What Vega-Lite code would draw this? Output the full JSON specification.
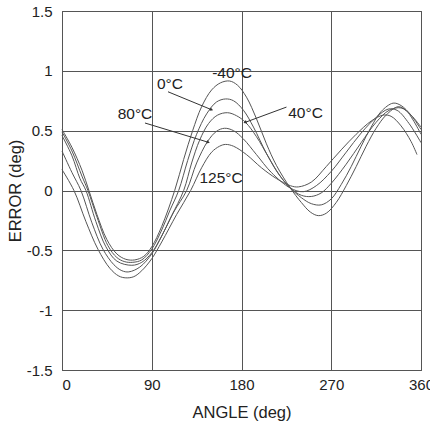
{
  "$schema": "https://vega.github.io/schema/vega-lite/v6.json",
  "width": 359,
  "height": 359,
  "autosize": "none",
  "padding": {"left": 62, "top": 11, "right": 9, "bottom": 59},
  "background": "white",
  "config": {
    "font": "Liberation Sans",
    "view": {"stroke": "#444", "strokeWidth": 1},
    "axis": {
      "grid": true, "gridColor": "#555", "gridOpacity": 1, "gridWidth": 1,
      "domain": false, "ticks": false,
      "labelFont": "Liberation Sans", "labelFontSize": 15, "labelColor": "#222",
      "titleFont": "Liberation Sans", "titleFontSize": 16.5, "titleFontWeight": "normal", "titleColor": "#222"
    }
  },
  "datasets": {
    "curves": [
      {"s":"A","a":0,"e":0.51},{"s":"A","a":10,"e":0.36},{"s":"A","a":20,"e":0.17},{"s":"A","a":27,"e":0.0},{"s":"A","a":35,"e":-0.2},{"s":"A","a":45,"e":-0.41},{"s":"A","a":55,"e":-0.53},{"s":"A","a":64,"e":-0.575},{"s":"A","a":73,"e":-0.58},{"s":"A","a":82,"e":-0.55},{"s":"A","a":90,"e":-0.47},{"s":"A","a":100,"e":-0.3},{"s":"A","a":113,"e":0.0},{"s":"A","a":122,"e":0.26},{"s":"A","a":131,"e":0.5},{"s":"A","a":140,"e":0.7},{"s":"A","a":150,"e":0.84},{"s":"A","a":159,"e":0.9},{"s":"A","a":168,"e":0.915},{"s":"A","a":176,"e":0.88},{"s":"A","a":185,"e":0.78},{"s":"A","a":195,"e":0.6},{"s":"A","a":205,"e":0.39},{"s":"A","a":215,"e":0.21},{"s":"A","a":229,"e":0.02},{"s":"A","a":240,"e":-0.1},{"s":"A","a":249,"e":-0.18},{"s":"A","a":257,"e":-0.21},{"s":"A","a":265,"e":-0.19},{"s":"A","a":275,"e":-0.1},{"s":"A","a":285,"e":0.04},{"s":"A","a":295,"e":0.2},{"s":"A","a":305,"e":0.37},{"s":"A","a":315,"e":0.52},{"s":"A","a":325,"e":0.63},{"s":"A","a":337,"e":0.7},{"s":"A","a":345,"e":0.67},{"s":"A","a":352,"e":0.59},{"s":"A","a":360,"e":0.47},
      {"s":"B","a":0,"e":0.49},{"s":"B","a":10,"e":0.33},{"s":"B","a":20,"e":0.12},{"s":"B","a":26,"e":0.0},{"s":"B","a":35,"e":-0.22},{"s":"B","a":46,"e":-0.46},{"s":"B","a":55,"e":-0.56},{"s":"B","a":63,"e":-0.595},{"s":"B","a":71,"e":-0.6},{"s":"B","a":80,"e":-0.58},{"s":"B","a":90,"e":-0.49},{"s":"B","a":100,"e":-0.33},{"s":"B","a":108,"e":-0.17},{"s":"B","a":117,"e":0.0},{"s":"B","a":126,"e":0.25},{"s":"B","a":135,"e":0.47},{"s":"B","a":145,"e":0.64},{"s":"B","a":155,"e":0.74},{"s":"B","a":164,"e":0.765},{"s":"B","a":172,"e":0.75},{"s":"B","a":182,"e":0.67},{"s":"B","a":192,"e":0.53},{"s":"B","a":205,"e":0.31},{"s":"B","a":217,"e":0.14},{"s":"B","a":229,"e":0.02},{"s":"B","a":240,"e":-0.06},{"s":"B","a":250,"e":-0.11},{"s":"B","a":260,"e":-0.12},{"s":"B","a":270,"e":-0.07},{"s":"B","a":280,"e":0.05},{"s":"B","a":290,"e":0.2},{"s":"B","a":300,"e":0.37},{"s":"B","a":310,"e":0.53},{"s":"B","a":320,"e":0.66},{"s":"B","a":332,"e":0.73},{"s":"B","a":340,"e":0.71},{"s":"B","a":350,"e":0.63},{"s":"B","a":360,"e":0.51},
      {"s":"C","a":0,"e":0.46},{"s":"C","a":10,"e":0.29},{"s":"C","a":18,"e":0.1},{"s":"C","a":24,"e":0.0},{"s":"C","a":34,"e":-0.26},{"s":"C","a":44,"e":-0.47},{"s":"C","a":55,"e":-0.59},{"s":"C","a":70,"e":-0.625},{"s":"C","a":80,"e":-0.6},{"s":"C","a":90,"e":-0.52},{"s":"C","a":100,"e":-0.38},{"s":"C","a":110,"e":-0.21},{"s":"C","a":122,"e":0.0},{"s":"C","a":130,"e":0.23},{"s":"C","a":138,"e":0.42},{"s":"C","a":147,"e":0.56},{"s":"C","a":156,"e":0.63},{"s":"C","a":166,"e":0.65},{"s":"C","a":175,"e":0.625},{"s":"C","a":184,"e":0.57},{"s":"C","a":195,"e":0.45},{"s":"C","a":207,"e":0.28},{"s":"C","a":218,"e":0.13},{"s":"C","a":229,"e":0.02},{"s":"C","a":240,"e":-0.04},{"s":"C","a":250,"e":-0.05},{"s":"C","a":260,"e":-0.02},{"s":"C","a":270,"e":0.06},{"s":"C","a":285,"e":0.22},{"s":"C","a":300,"e":0.4},{"s":"C","a":315,"e":0.57},{"s":"C","a":328,"e":0.67},{"s":"C","a":340,"e":0.69},{"s":"C","a":350,"e":0.63},{"s":"C","a":360,"e":0.53},
      {"s":"D","a":0,"e":0.33},{"s":"D","a":10,"e":0.15},{"s":"D","a":19,"e":0.0},{"s":"D","a":30,"e":-0.27},{"s":"D","a":41,"e":-0.49},{"s":"D","a":52,"e":-0.62},{"s":"D","a":60,"e":-0.67},{"s":"D","a":67,"e":-0.68},{"s":"D","a":78,"e":-0.64},{"s":"D","a":90,"e":-0.53},{"s":"D","a":100,"e":-0.38},{"s":"D","a":112,"e":-0.18},{"s":"D","a":125,"e":0.0},{"s":"D","a":135,"e":0.23},{"s":"D","a":146,"e":0.41},{"s":"D","a":155,"e":0.495},{"s":"D","a":163,"e":0.52},{"s":"D","a":172,"e":0.5},{"s":"D","a":182,"e":0.43},{"s":"D","a":195,"e":0.3},{"s":"D","a":210,"e":0.15},{"s":"D","a":229,"e":0.02},{"s":"D","a":242,"e":-0.01},{"s":"D","a":255,"e":0.04},{"s":"D","a":270,"e":0.16},{"s":"D","a":285,"e":0.32},{"s":"D","a":300,"e":0.48},{"s":"D","a":315,"e":0.61},{"s":"D","a":327,"e":0.68},{"s":"D","a":336,"e":0.67},{"s":"D","a":348,"e":0.56},{"s":"D","a":360,"e":0.4},
      {"s":"E","a":0,"e":0.175},{"s":"E","a":12,"e":0.0},{"s":"E","a":24,"e":-0.26},{"s":"E","a":36,"e":-0.49},{"s":"E","a":48,"e":-0.65},{"s":"E","a":57,"e":-0.715},{"s":"E","a":64,"e":-0.73},{"s":"E","a":72,"e":-0.72},{"s":"E","a":80,"e":-0.67},{"s":"E","a":90,"e":-0.57},{"s":"E","a":100,"e":-0.43},{"s":"E","a":115,"e":-0.2},{"s":"E","a":129,"e":0.0},{"s":"E","a":140,"e":0.19},{"s":"E","a":150,"e":0.32},{"s":"E","a":158,"e":0.37},{"s":"E","a":164,"e":0.385},{"s":"E","a":172,"e":0.37},{"s":"E","a":185,"e":0.3},{"s":"E","a":200,"e":0.19},{"s":"E","a":215,"e":0.1},{"s":"E","a":229,"e":0.04},{"s":"E","a":237,"e":0.03},{"s":"E","a":250,"e":0.07},{"s":"E","a":265,"e":0.2},{"s":"E","a":280,"e":0.34},{"s":"E","a":295,"e":0.47},{"s":"E","a":310,"e":0.58},{"s":"E","a":322,"e":0.63},{"s":"E","a":330,"e":0.62},{"s":"E","a":340,"e":0.54},{"s":"E","a":350,"e":0.41},{"s":"E","a":356,"e":0.3}
    ],
    "arrows": [
      {"n":"0","a1":106.3,"e1":0.825,"a2":150,"e2":0.675},
      {"n":"80","a1":83.2,"e1":0.564,"a2":146.7,"e2":0.403},
      {"n":"40","a1":225.1,"e1":0.697,"a2":183.5,"e2":0.569}
    ],
    "labels": [
      {"t":"-40°C","a":170.5,"e":0.98},
      {"t":"0°C","a":108.3,"e":0.89},
      {"t":"40°C","a":244.2,"e":0.646},
      {"t":"80°C","a":73.2,"e":0.64},
      {"t":"125°C","a":159.5,"e":0.108}
    ]
  },
  "layer": [
    {
      "data": {"name": "curves"},
      "mark": {"type": "line", "color": "#555", "strokeWidth": 1, "interpolate": "catmull-rom"},
      "encoding": {
        "x": {"field": "a", "type": "quantitative", "scale": {"domain": [0, 360], "nice": false},
              "axis": {"values": [0, 90, 180, 270, 360], "title": "ANGLE (deg)", "labelPadding": 7, "titlePadding": 12, "labelFlush": false, "labelAlign": {"expr": "datum.value == 0 ? 'left' : 'center'"}}},
        "y": {"field": "e", "type": "quantitative", "scale": {"domain": [-1.5, 1.5], "nice": false},
              "axis": {"values": [-1.5, -1, -0.5, 0, 0.5, 1, 1.5], "labelExpr": "'' + datum.value", "title": "ERROR (deg)", "labelPadding": 10, "titlePadding": 3}},
        "detail": {"field": "s", "type": "nominal"}
      }
    },
    {
      "data": {"name": "arrows"},
      "mark": {"type": "rule", "color": "#333", "strokeWidth": 1},
      "encoding": {
        "x": {"field": "a1", "type": "quantitative"},
        "y": {"field": "e1", "type": "quantitative"},
        "x2": {"field": "a2"},
        "y2": {"field": "e2"}
      }
    },
    {
      "data": {"name": "arrows"},
      "transform": [{"filter": "datum.n == '0'"}],
      "mark": {"type": "point", "shape": "triangle-up", "filled": true, "color": "#333", "size": 14, "angle": 112, "opacity": 1},
      "encoding": {"x": {"field": "a2", "type": "quantitative"}, "y": {"field": "e2", "type": "quantitative"}}
    },
    {
      "data": {"name": "arrows"},
      "transform": [{"filter": "datum.n == '80'"}],
      "mark": {"type": "point", "shape": "triangle-up", "filled": true, "color": "#333", "size": 14, "angle": 107, "opacity": 1},
      "encoding": {"x": {"field": "a2", "type": "quantitative"}, "y": {"field": "e2", "type": "quantitative"}}
    },
    {
      "data": {"name": "arrows"},
      "transform": [{"filter": "datum.n == '40'"}],
      "mark": {"type": "point", "shape": "triangle-up", "filled": true, "color": "#333", "size": 14, "angle": 250, "opacity": 1},
      "encoding": {"x": {"field": "a2", "type": "quantitative"}, "y": {"field": "e2", "type": "quantitative"}}
    },
    {
      "data": {"name": "labels"},
      "mark": {"type": "text", "font": "Liberation Sans", "fontSize": 15.5, "color": "#222", "align": "center", "baseline": "middle"},
      "encoding": {
        "x": {"field": "a", "type": "quantitative"},
        "y": {"field": "e", "type": "quantitative"},
        "text": {"field": "t"}
      }
    }
  ]
}
